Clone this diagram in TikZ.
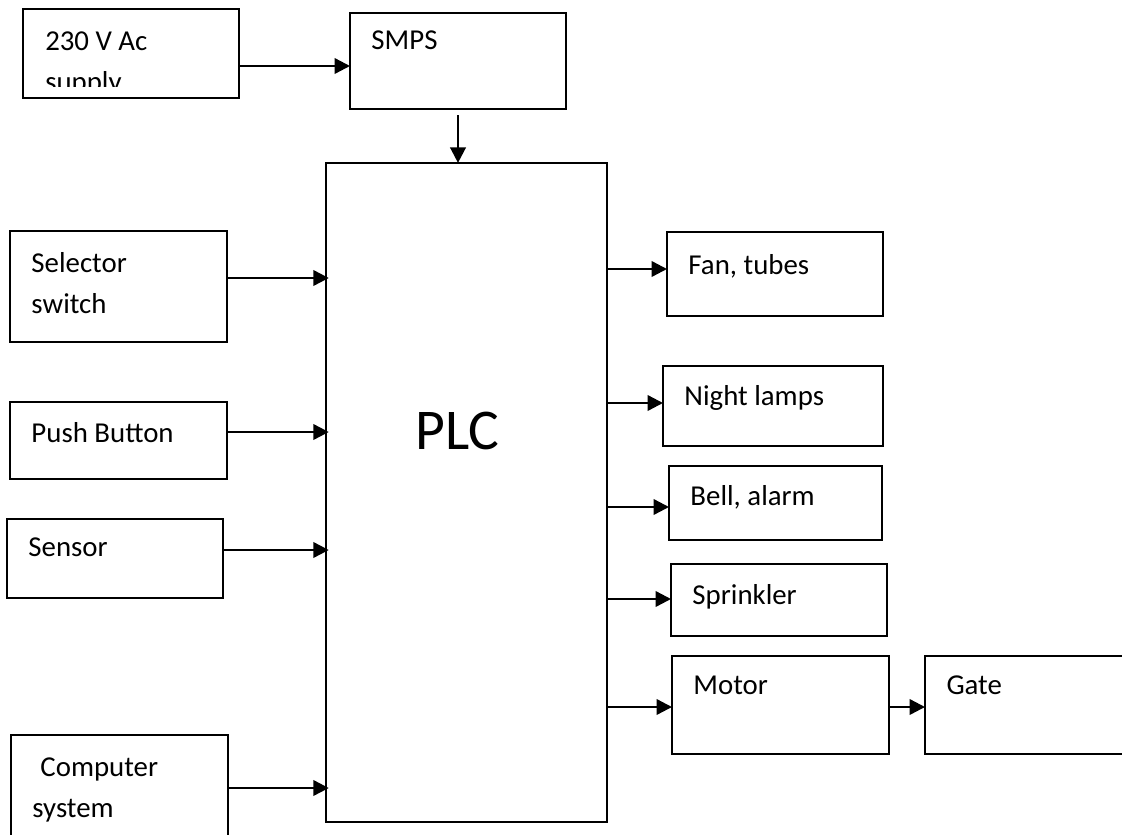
\documentclass[tikz,border=0pt]{standalone}
\usepackage{fontspec}
\setmainfont{Carlito}
\usetikzlibrary{arrows.meta,calc}

\begin{document}
\begin{tikzpicture}[x=0.025cm,y=-0.025cm,>={Triangle[length=11pt,width=11pt]}]
  \tikzset{blk/.style={draw,line width=1.4pt,inner sep=0pt,outer sep=0pt},
    lbl/.style={anchor=north west,inner sep=0pt,align=left,font=\fontsize{20.5}{29}\selectfont},
    arr/.style={->,line width=1.7pt}}
  \useasboundingbox (0,0) rectangle (1122,834);
  \clip (0,0) rectangle (1122,834);
  % blocks
  \foreach \nm/\xa/\ya/\xb/\yb/\dy/\txt in {smps/350/13/566/109/18/SMPS,
      sel/10/231/227/342/21/{Selector\\switch},push/10/402/227/479/20/{Push Button},
      sens/7/519/223/598/19/Sensor,comp/11/735/228/858/23/{\hspace*{0.2cm}Computer\\system},
      fan/667/232/883/316/22/{Fan, tubes},lamp/663/366/883/446/19/{Night lamps},
      bell/669/466/882/540/19/{Bell, alarm},spr/671/564/887/636/20/Sprinkler,
      motor/672/656/889/754/20/Motor,gate/925/656/1140/754/20/Gate}{
    \node[blk,minimum width={(\xb-\xa)*0.025cm},minimum height={(\yb-\ya)*0.025cm}] (\nm) at ({(\xa+\xb)/2},{(\ya+\yb)/2}) {};
    \node[lbl] (\nm-t) at ([xshift=0.53cm,yshift={-\dy*0.025cm}]\nm.north west) {\txt};
  }
  \node[blk,minimum width=5.4cm,minimum height=2.225cm] (supply) at (131,53.5) {};
  \begin{scope}
    \clip (supply.north west) rectangle ([yshift=0.3cm]supply.south east);
    \node[lbl] (supply-t) at ([xshift=0.55cm,yshift=-0.575cm]supply.north west) {230 V Ac\\supply};
  \end{scope}
  % PLC
  \node[blk,minimum width=7.025cm,minimum height=16.475cm] (plc) at (466.5,492.5) {};
  \node[inner sep=0pt,font=\fontsize{41}{48}\selectfont] (plc-t) at (457.5,430.5) {PLC};
  % supply side
  \draw[arr] ([yshift=-0.3125cm]supply.east) -- ([yshift=-0.3125cm]supply.east -| smps.west);
  \draw[arr] ([yshift=-0.15cm]smps.south) -- (smps.south |- plc.north);
  % inputs
  \foreach \nm in {sel,push,sens,comp}{
    \draw[arr,shorten >=-2pt] ([yshift=0.2125cm]\nm.east) -- ([yshift=0.2125cm]\nm.east -| plc.west);
  }
  % outputs
  \foreach \nm/\off in {fan/0.125cm,lamp/0.075cm,bell/-0.1cm,spr/0.025cm,motor/-0.05cm}{
    \draw[arr] ([yshift=\off]plc.east |- \nm.west) -- ([yshift=\off]\nm.west);
  }
  \draw[arr] ([yshift=-0.05cm]motor.east) -- ([yshift=-0.05cm]gate.west);
\end{tikzpicture}
\end{document}
